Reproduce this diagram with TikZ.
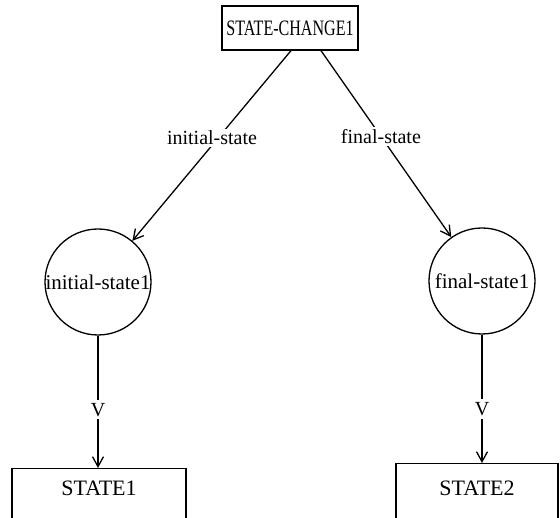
\documentclass[tikz,border=0pt]{standalone}
\usepackage{fontspec}
\setmainfont{Liberation Serif}
\usetikzlibrary{arrows.meta}
\begin{document}
\begin{tikzpicture}[x=1pt,y=-1pt,
  lab/.style={font=\fontsize{20}{24}\selectfont},
  caps/.style={font=\fontsize{22}{26}\selectfont},
  rect/.style={draw, line width=1.3pt, inner sep=0pt},
  roundnode/.style={draw, circle, line width=1.3pt, minimum size=106pt, inner sep=0pt, font=\fontsize{21}{25}\selectfont},
  arr/.style={line width=1.3pt, -{Straight Barb[length=10pt,width=11pt,line width=1.3pt]}},
  elab/.style={lab, fill=white, inner sep=2pt}]
  \useasboundingbox (0,0) rectangle (560,518);
  \clip (0,0) rectangle (560,518);

  % top concept box
  \node[rect, caps, minimum width=136pt, minimum height=44pt] (top) at (290,28)
    {\addfontfeature{FakeStretch=0.73}STATE-CHANGE1};

  % role circles
  \node[roundnode] (c1) at (98,282) {initial-state1};
  \node[roundnode] (c2) at (482,281) {final-state1};

  % bottom state boxes (run off the lower edge)
  \node[rect, caps, anchor=north, minimum width=174pt, text height=21pt, text depth=40pt, inner ysep=6pt] (s1) at (99,468) {STATE1};
  \node[rect, caps, anchor=north, minimum width=162pt, text height=26pt, text depth=40pt, inner ysep=6pt] (s2) at (477,463) {STATE2};

  % role arcs
  \draw[arr] ([xshift=1pt]top.south) -- node[elab, pos=0.46, xshift=-6pt] {initial-state} (c1);
  \draw[arr] ([xshift=31pt]top.south) -- node[elab, pos=0.46] {final-state} (c2);

  % value arcs
  \draw[arr] (c1.south) -- node[elab, pos=0.56, inner sep=3pt] {V} (c1.south |- s1.north);
  \draw[arr] (c2.south) -- node[elab, pos=0.58, inner sep=3pt] {V} (c2.south |- s2.north);
\end{tikzpicture}
\end{document}
